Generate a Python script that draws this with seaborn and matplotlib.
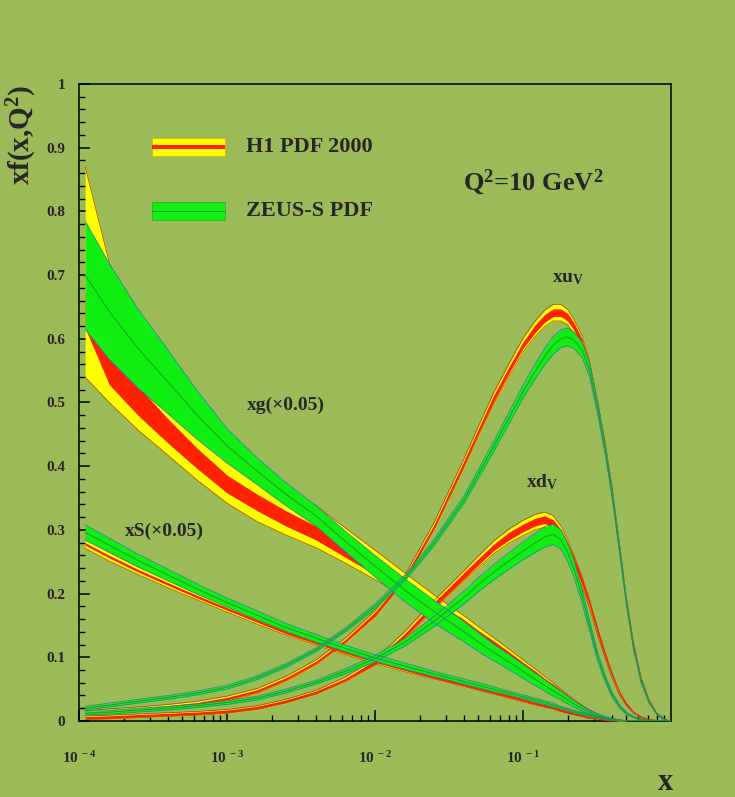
import numpy as np
import matplotlib
matplotlib.use("Agg")
import matplotlib.pyplot as plt
import matplotlib.ticker as mticker
from matplotlib.patches import Rectangle
import seaborn as sns

# x grid the curves were read on
x_grid = [1.1e-4, 1.6e-4, 2.5e-4, 4e-4, 6.3e-4, 1e-3, 1.6e-3, 2.5e-3, 4e-3, 6.3e-3,
          1e-2, 1.6e-2, 2.5e-2, 4e-2, 5e-2, 6.3e-2, 8e-2, 0.1, 0.12, 0.14,
          0.16, 0.18, 0.2, 0.22, 0.25, 0.28, 0.32, 0.36, 0.4, 0.45,
          0.5, 0.56, 0.63, 0.71, 0.8, 0.9, 1.0]

# xg (x0.05)
h1_g = [0.645, 0.555, 0.503, 0.455, 0.412, 0.372, 0.343, 0.318, 0.295, 0.268,
        0.240, 0.210, 0.180, 0.150, 0.134, 0.118, 0.101, 0.085, 0.072, 0.061,
        0.052, 0.044, 0.036, 0.029, 0.021, 0.015, 0.009, 0.005, 0.002, 0.001,
        0, 0, 0, 0, 0, 0, 0]
h1_g_exp = [0.028, 0.027, 0.023, 0.019, 0.016, 0.014, 0.013, 0.012, 0.011, 0.011,
            0.010, 0.010, 0.009, 0.009, 0.008, 0.008, 0.008, 0.007, 0.007, 0.006,
            0.006, 0.005, 0.005, 0.004, 0.004, 0.003, 0.002, 0.002, 0.001, 0.001,
            0, 0, 0, 0, 0, 0, 0]
h1_g_lo = [0.540, 0.500, 0.457, 0.417, 0.378, 0.342, 0.313, 0.292, 0.272, 0.248,
           0.222, 0.194, 0.165, 0.137, 0.122, 0.107, 0.091, 0.076, 0.064, 0.054,
           0.045, 0.038, 0.031, 0.024, 0.017, 0.012, 0.007, 0.003, 0.001, 0,
           0, 0, 0, 0, 0, 0, 0]
h1_g_hi = [0.870, 0.720, 0.615, 0.550, 0.490, 0.440, 0.400, 0.368, 0.338, 0.303,
           0.268, 0.232, 0.198, 0.165, 0.148, 0.131, 0.113, 0.096, 0.082, 0.070,
           0.060, 0.050, 0.042, 0.034, 0.025, 0.018, 0.011, 0.006, 0.003, 0.001,
           0, 0, 0, 0, 0, 0, 0]
zeus_g = [0.700, 0.643, 0.585, 0.532, 0.480, 0.432, 0.392, 0.356, 0.322, 0.282,
          0.243, 0.205, 0.172, 0.140, 0.124, 0.108, 0.093, 0.078, 0.066, 0.056,
          0.047, 0.040, 0.033, 0.027, 0.020, 0.014, 0.009, 0.005, 0.003, 0.001,
          0, 0, 0, 0, 0, 0, 0]
zeus_g_err = [0.085, 0.075, 0.062, 0.050, 0.038, 0.027, 0.021, 0.018, 0.016, 0.016,
              0.017, 0.018, 0.018, 0.016, 0.015, 0.013, 0.012, 0.011, 0.010, 0.009,
              0.008, 0.007, 0.006, 0.005, 0.004, 0.003, 0.002, 0.002, 0.001, 0.001,
              0, 0, 0, 0, 0, 0, 0]

# xS (x0.05)
h1_s = [0.278, 0.258, 0.236, 0.215, 0.195, 0.176, 0.157, 0.139, 0.123, 0.108,
        0.094, 0.081, 0.069, 0.057, 0.051, 0.045, 0.039, 0.033, 0.028, 0.024,
        0.021, 0.017, 0.014, 0.012, 0.009, 0.006, 0.004, 0.002, 0.001, 0,
        0, 0, 0, 0, 0, 0, 0]
h1_s_exp = [0.002] * 26 + [0.001] * 4 + [0] * 7
h1_s_tot = [0.007, 0.007, 0.006, 0.006, 0.005, 0.005, 0.005, 0.004, 0.004, 0.004,
            0.004, 0.004, 0.003, 0.003, 0.003, 0.003, 0.003, 0.003, 0.003, 0.002,
            0.002, 0.002, 0.002, 0.002, 0.002, 0.002, 0.001, 0.001, 0.001, 0.001,
            0, 0, 0, 0, 0, 0, 0]
zeus_s = [0.296, 0.276, 0.252, 0.229, 0.207, 0.186, 0.166, 0.147, 0.130, 0.114,
          0.099, 0.086, 0.074, 0.062, 0.056, 0.050, 0.044, 0.038, 0.033, 0.029,
          0.025, 0.021, 0.018, 0.015, 0.012, 0.009, 0.006, 0.004, 0.002, 0.001,
          0, 0, 0, 0, 0, 0, 0]
zeus_s_err = [0.012, 0.011, 0.010, 0.009, 0.008, 0.007, 0.007, 0.006, 0.006, 0.005,
              0.005, 0.005, 0.004, 0.004, 0.004, 0.004, 0.003, 0.003, 0.003, 0.003,
              0.003, 0.002, 0.002, 0.002, 0.002, 0.002, 0.001, 0.001, 0.001, 0.001,
              0, 0, 0, 0, 0, 0, 0]

# xu_v
h1_uv = [0.012, 0.015, 0.018, 0.022, 0.027, 0.035, 0.047, 0.066, 0.092, 0.126,
         0.168, 0.225, 0.305, 0.405, 0.455, 0.505, 0.550, 0.590, 0.615, 0.632,
         0.641, 0.641, 0.634, 0.620, 0.595, 0.560, 0.495, 0.430, 0.362, 0.272,
         0.190, 0.118, 0.065, 0.032, 0.012, 0.002, 0]
h1_uv_exp = [0.002] * 10 + [0.003, 0.003, 0.003, 0.004, 0.004, 0.005, 0.005, 0.005,
                            0.006, 0.006, 0.006, 0.006, 0.006, 0.006, 0.005, 0.005,
                            0.005, 0.004, 0.004, 0.004, 0.003, 0.003, 0.002, 0.001,
                            0.001, 0, 0]
h1_uv_tot = [0.004] * 10 + [0.005, 0.005, 0.006, 0.007, 0.008, 0.009, 0.010, 0.011,
                            0.012, 0.013, 0.013, 0.013, 0.012, 0.011, 0.010, 0.009,
                            0.008, 0.007, 0.006, 0.005, 0.004, 0.004, 0.003, 0.002,
                            0.001, 0.001, 0]
zeus_uv = [0.020, 0.025, 0.031, 0.037, 0.044, 0.053, 0.068, 0.087, 0.112, 0.143,
           0.180, 0.225, 0.280, 0.348, 0.388, 0.430, 0.475, 0.517, 0.548, 0.572,
           0.590, 0.600, 0.603, 0.598, 0.583, 0.553, 0.490, 0.425, 0.357, 0.268,
           0.186, 0.114, 0.062, 0.030, 0.011, 0.002, 0]
zeus_uv_err = [0.003] * 10 + [0.004, 0.004, 0.005, 0.006, 0.007, 0.008, 0.009, 0.010,
                              0.012, 0.013, 0.014, 0.014, 0.014, 0.013, 0.012, 0.011,
                              0.009, 0.008, 0.007, 0.006, 0.005, 0.004, 0.003, 0.002,
                              0.001, 0.001, 0]

# xd_v
h1_dv = [0.005, 0.006, 0.008, 0.010, 0.012, 0.015, 0.021, 0.031, 0.045, 0.065,
         0.092, 0.135, 0.182, 0.228, 0.250, 0.272, 0.290, 0.303, 0.312, 0.316,
         0.310, 0.295, 0.275, 0.253, 0.220, 0.186, 0.140, 0.102, 0.072, 0.043,
         0.026, 0.013, 0.006, 0.002, 0.001, 0, 0]
h1_dv_exp = [0.002] * 10 + [0.003, 0.003, 0.004, 0.005, 0.005, 0.005, 0.006, 0.006,
                            0.006, 0.006, 0.006, 0.006, 0.006, 0.006, 0.006, 0.005,
                            0.005, 0.004, 0.003, 0.002, 0.002, 0.001, 0.001, 0,
                            0, 0, 0]
h1_dv_tot = [0.003] * 9 + [0.004, 0.005, 0.006, 0.007, 0.008, 0.009, 0.010, 0.011,
                           0.012, 0.012, 0.012, 0.012, 0.011, 0.010, 0.009, 0.008,
                           0.007, 0.006, 0.005, 0.004, 0.003, 0.002, 0.001, 0.001,
                           0, 0, 0, 0]
zeus_dv = [0.012, 0.014, 0.017, 0.020, 0.024, 0.029, 0.036, 0.047, 0.061, 0.078,
           0.098, 0.124, 0.156, 0.194, 0.214, 0.233, 0.251, 0.267, 0.279, 0.289,
           0.293, 0.285, 0.265, 0.240, 0.197, 0.152, 0.100, 0.066, 0.041, 0.023,
           0.012, 0.006, 0.002, 0.001, 0, 0, 0]
zeus_dv_err = [0.003] * 9 + [0.004, 0.005, 0.006, 0.008, 0.010, 0.011, 0.012, 0.013,
                             0.014, 0.015, 0.016, 0.016, 0.015, 0.014, 0.013, 0.011,
                             0.009, 0.007, 0.005, 0.004, 0.003, 0.002, 0.001, 0.001,
                             0, 0, 0, 0]

y_ticks = [0, 0.1, 0.2, 0.3, 0.4, 0.5, 0.6, 0.7, 0.8, 0.9, 1.0]
y_tick_labels = ["0", "0.1", "0.2", "0.3", "0.4", "0.5", "0.6", "0.7", "0.8", "0.9", "1"]
x_ticks = [1e-4, 1e-3, 1e-2, 1e-1]
x_tick_labels = [r"$10^{\ -4}$", r"$10^{\ -3}$", r"$10^{\ -2}$", r"$10^{\ -1}$"]

BG = "#9BBB59"
YELLOW = "#FFFF00"
RED = "#FF2200"
GREEN = "#11EE11"
H1_EDGE = "#B04010"
ZEUS_EDGE = "#2878B8"
ZEUS_MID = "#1F9A2A"

sns.set_style("ticks")
plt.rcParams["font.family"] = ["Liberation Serif", "DejaVu Serif"]
plt.rcParams["font.weight"] = "bold"
plt.rcParams["mathtext.fontset"] = "custom"
plt.rcParams["mathtext.rm"] = "Liberation Serif:bold"
plt.rcParams["mathtext.it"] = "Liberation Serif:italic:bold"
plt.rcParams["mathtext.bf"] = "Liberation Serif:bold"

fig = plt.figure(figsize=(7.35, 7.97), dpi=100, facecolor=BG)
ax = fig.add_axes([0.1075, 0.0954, 0.8054, 0.7992])
ax.set_facecolor(BG)

x = np.array(x_grid)


def draw_h1(c, exp, lo, hi):
    c = np.array(c)
    exp = np.array(exp)
    lo = np.clip(np.array(lo), 0, None)
    hi = np.array(hi)
    ax.fill_between(x, lo, hi, color=YELLOW, lw=0, zorder=2)
    ax.fill_between(x, np.clip(c - exp, 0, None), c + exp, color=RED, lw=0, zorder=3)
    sns.lineplot(x=x, y=hi, ax=ax, color=H1_EDGE, lw=0.5, zorder=3.5)
    sns.lineplot(x=x, y=lo, ax=ax, color=H1_EDGE, lw=0.5, zorder=3.5)


def draw_zeus(c, err):
    c = np.array(c)
    err = np.array(err)
    lo = np.clip(c - err, 0, None)
    ax.fill_between(x, lo, c + err, color=GREEN, lw=0, zorder=4)
    sns.lineplot(x=x, y=c + err, ax=ax, color=ZEUS_EDGE, lw=0.5, zorder=4.5)
    sns.lineplot(x=x, y=lo, ax=ax, color=ZEUS_EDGE, lw=0.5, zorder=4.5)
    sns.lineplot(x=x, y=c, ax=ax, color=ZEUS_MID, lw=0.7, zorder=4.6)


draw_h1(h1_g, h1_g_exp, h1_g_lo, h1_g_hi)
for c, e, t in [(h1_s, h1_s_exp, h1_s_tot), (h1_uv, h1_uv_exp, h1_uv_tot),
                (h1_dv, h1_dv_exp, h1_dv_tot)]:
    c_arr = np.array(c)
    t_arr = np.array(t)
    draw_h1(c, e, c_arr - t_arr, c_arr + t_arr)

for c, e in [(zeus_g, zeus_g_err), (zeus_s, zeus_s_err),
             (zeus_uv, zeus_uv_err), (zeus_dv, zeus_dv_err)]:
    draw_zeus(c, e)

ax.set_xscale("log")
ax.set_xlim(1e-4, 1)
ax.set_ylim(0, 1)

ax.set_xticks(x_ticks)
ax.set_xticklabels(x_tick_labels)
ax.xaxis.set_minor_locator(mticker.LogLocator(base=10, subs=np.arange(2, 10)))
ax.xaxis.set_minor_formatter(mticker.NullFormatter())
ax.set_yticks(y_ticks)
ax.set_yticklabels(y_tick_labels)
ax.yaxis.set_minor_locator(mticker.MultipleLocator(0.02))

ax.tick_params(axis="both", which="major", direction="in", length=8, width=1.1,
               color="black", top=False, right=False)
ax.tick_params(axis="both", which="minor", direction="in", length=4.5, width=1.0,
               color="black", top=False, right=False)
ax.tick_params(axis="x", which="major", pad=21, labelsize=11)
ax.tick_params(axis="y", which="major", pad=10, labelsize=11)
for s in ax.spines.values():
    s.set_visible(True)
    s.set_linewidth(1.1)
    s.set_color("black")
ax.set_xlabel("")
ax.set_ylabel("")

# legend swatches
ax.add_patch(Rectangle((0.123, 0.887), 0.124, 0.028, transform=ax.transAxes,
                       facecolor=YELLOW, edgecolor="#D8B000", lw=0.5, zorder=6))
ax.add_patch(Rectangle((0.123, 0.898), 0.124, 0.006, transform=ax.transAxes,
                       facecolor=RED, edgecolor="none", zorder=7))
ax.add_patch(Rectangle((0.123, 0.786), 0.124, 0.029, transform=ax.transAxes,
                       facecolor=GREEN, edgecolor="#20B020", lw=0.5, zorder=6))
ax.plot([0.123, 0.247], [0.80, 0.80], transform=ax.transAxes, color=ZEUS_MID,
        lw=0.7, zorder=7)
ax.text(0.282, 0.901, "H1 PDF 2000", transform=ax.transAxes, fontsize=16,
        va="center", ha="left")
ax.text(0.282, 0.800, "ZEUS-S PDF", transform=ax.transAxes, fontsize=16,
        va="center", ha="left")

ax.text(0.649, 0.846, r"Q$^2$=10 GeV$^2$", transform=ax.transAxes, fontsize=19,
        va="center", ha="left")
ax.text(0.826, 0.695, r"xu$_\mathrm{V}$", transform=ax.transAxes, fontsize=14,
        va="center", ha="center")
ax.text(0.782, 0.375, r"xd$_\mathrm{V}$", transform=ax.transAxes, fontsize=14,
        va="center", ha="center")
ax.text(0.284, 0.496, "xg(\u00d70.05)", transform=ax.transAxes, fontsize=14,
        va="center", ha="left")
ax.text(0.078, 0.297, "xS(\u00d70.05)", transform=ax.transAxes, fontsize=14,
        va="center", ha="left")

fig.text(0.030, 0.893, r"xf(x,Q$^2$)", rotation=90, fontsize=21,
         va="top", ha="center")
fig.text(0.905, 0.018, "x", fontsize=22, va="center", ha="center")

fig.savefig("out.png", dpi=100, facecolor=BG)
